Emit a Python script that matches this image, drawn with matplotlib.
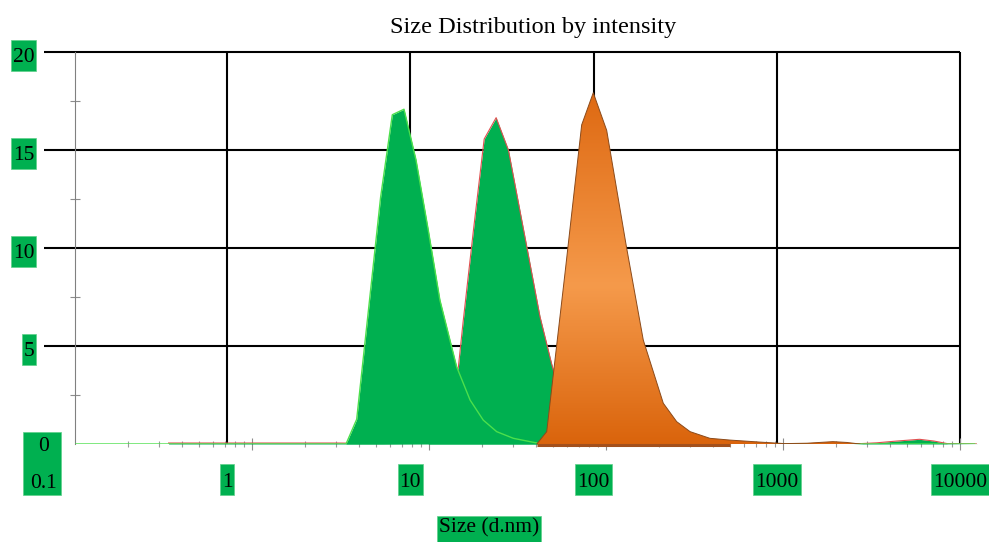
import numpy as np
import matplotlib
matplotlib.use("Agg")
import matplotlib.pyplot as plt
from matplotlib.colors import LinearSegmentedColormap
from matplotlib.patches import Polygon, Rectangle
from matplotlib.ticker import FixedLocator, NullFormatter

plt.rcParams["font.family"] = ["Liberation Serif", "DejaVu Serif"]

# peak 1 (green, light green edge)
s1_size = [0.15, 4.46, 5.10, 6.89, 7.98, 9.24, 10.74, 12.54, 14.5, 17.9, 21.2, 25.0,
           29.6, 36.5, 47.9, 55.0, 12000]
s1_val = [0, 0, 1.26, 12.6, 16.8, 17.08, 14.5, 10.9, 7.35, 3.94, 2.24, 1.22,
          0.63, 0.29, 0.07, 0, 0]

# peak 2 (green, red edge)
s2_size = [0.48, 4.0, 12.5, 15.5, 18.3, 19.4, 22.1, 25.3, 29.4, 34.3, 43.2, 51.0, 59.0,
           70.0, 85.0, 110.0, 2600, 3500, 4500, 6000, 7200, 8500, 13000]
s2_val = [0.05, 0.05, 0, 1.2, 3.94, 6.2, 10.9, 15.56, 16.65, 15.0, 10.07, 6.5, 4.1,
          1.6, 0.4, 0, 0, 0.06, 0.15, 0.24, 0.15, 0.02, 0]

# peak 3 (orange)
s3_size = [49, 55.5, 70, 86.1, 99.6, 117.9, 151, 186.7, 240, 284, 336, 431, 555,
           800, 1100, 1460, 2020, 2400, 2840]
s3_val = [0, 0.63, 8.8, 16.28, 17.92, 16.0, 10.07, 5.3, 2.08, 1.14, 0.63, 0.29, 0.2,
          0.1, 0.02, 0.04, 0.12, 0.08, 0]

x_grid = [1, 10, 100, 1000, 10000]
x_labels = ["1", "10", "100", "1000", "10000"]
y_grid = [5, 10, 15, 20]
y_labels = ["5", "10", "15", "20"]

GREEN = "#00B050"
EDGE = "#5fd08a"
FS = 15.5

fig = plt.figure(figsize=(9.89, 5.42), dpi=100)
ax = fig.add_axes([75 / 989, 1 - 444 / 542, 902 / 989, 392 / 542])
ax.set_xscale("log")

# orange gradient clipped to peak 3
cmap = LinearSegmentedColormap.from_list(
    "orng", [(0, "#DA640C"), (0.45, "#F59A4B"), (1, "#DE6912")])
grad = np.linspace(0, 1, 256).reshape(-1, 1)
im = ax.imshow(grad, cmap=cmap, aspect="auto", origin="lower",
               extent=[0, 1, 0, max(s3_val) / 20], transform=ax.transAxes, zorder=5)

ax.set_xlim(0.1482, 12350)
ax.set_ylim(0, 20)

# grid
for g in x_grid:
    ax.plot([g, g], [0, 20], color="black", lw=1.5, zorder=1, solid_capstyle="butt")
for g in y_grid:
    ax.plot([0.1, 10000], [g, g], color="black", lw=1.5, zorder=1, clip_on=False,
            solid_capstyle="butt")

# peaks
ax.fill_between(s2_size, s2_val, 0, color=GREEN, lw=0, zorder=2)
ax.plot(s2_size, s2_val, color="#E05050", lw=0.8, zorder=2.1)
ax.fill_between(s1_size, s1_val, 0, color=GREEN, lw=0, zorder=2.2)
ax.plot(s1_size, s1_val, color="#4CE04C", lw=1.0, zorder=3)

verts = list(zip(s3_size, s3_val))
clip = Polygon(verts, closed=True, transform=ax.transData, facecolor="none",
               edgecolor="none")
ax.add_patch(clip)
im.set_clip_path(clip)
ax.plot(s3_size, s3_val, color="#8B4A1A", lw=0.7, zorder=6)
ax.plot([s3_size[0], s3_size[12]], [-0.06, -0.06], color="#A3501C", lw=2.2,
        zorder=6, solid_capstyle="butt", clip_on=False)

# axis ticks (own log scale: 0.1 at left edge, 10000 at the right grid line)
def tick_pos(v):
    return 10 ** ((177 * (np.log10(v) + 1) - 152) / 183.3)

major = [tick_pos(10.0 ** n) for n in range(-1, 5)]
minor = [tick_pos(k * 10.0 ** n) for n in range(-1, 4) for k in range(2, 10)]
ax.xaxis.set_major_locator(FixedLocator(major))
ax.xaxis.set_minor_locator(FixedLocator(minor))
ax.xaxis.set_major_formatter(NullFormatter())
ax.xaxis.set_minor_formatter(NullFormatter())
ax.tick_params(axis="x", which="major", direction="inout", length=9, width=0.8,
               color="#8c8c8c")
ax.tick_params(axis="x", which="minor", direction="inout", length=5, width=0.8,
               color="#9a9a9a")
ax.set_yticks([2.5, 7.5, 12.5, 17.5])
ax.set_yticklabels([])
ax.tick_params(axis="y", direction="inout", length=7, width=0.8, color="#8c8c8c")

for s in ["top", "right", "bottom"]:
    ax.spines[s].set_visible(False)
ax.spines["left"].set_color("#808080")
ax.spines["left"].set_linewidth(0.8)

boxed = []
for g, lab in zip(y_grid, y_labels):
    boxed.append(ax.text(-0.045, g - 0.3, lab, transform=ax.get_yaxis_transform(),
                         ha="right", va="center", fontsize=FS, clip_on=False))
for g, lab in zip(x_grid, x_labels):
    boxed.append(ax.text(g, -0.098, lab, transform=ax.get_xaxis_transform(),
                         ha="center", va="center", fontsize=FS, clip_on=False))
size_lab = ax.text(x_grid[2] * 0.27, -0.215, "Size (d.nm)",
                   transform=ax.get_xaxis_transform(), ha="center", va="center",
                   fontsize=FS, clip_on=False)

# combined "0" / "0.1" box
fig.add_artist(Rectangle((23 / 989, 1 - 495 / 542), 38 / 989, 63 / 542,
                         transform=fig.transFigure, facecolor=GREEN,
                         edgecolor=EDGE, lw=0.5, zorder=-1))
ax.text(0.1, -0.15, "0", ha="center", va="center", fontsize=FS, clip_on=False)
ax.text(0.1, -0.1, "0.1", transform=ax.get_xaxis_transform(), ha="center",
        va="center", fontsize=FS, clip_on=False)

fig.text(533 / 989, 1 - 27 / 542, "Size Distribution by intensity", ha="center",
         va="center", fontsize=17.5)

# green label boxes, taller than the text as in the original
fig.canvas.draw()
rend = fig.canvas.get_renderer()
for t, shift in [(t, 2.5) for t in boxed] + [(size_lab, -3)]:
    bb = t.get_window_extent(rend)
    cy = (bb.y0 + bb.y1) / 2 + shift
    fig.add_artist(Rectangle((bb.x0 - 2, cy - 15.5), bb.width + 4, 31,
                             transform=None, facecolor=GREEN, edgecolor=EDGE,
                             lw=0.5, zorder=-1))

fig.savefig("out.png", dpi=100)
plt.close(fig)
